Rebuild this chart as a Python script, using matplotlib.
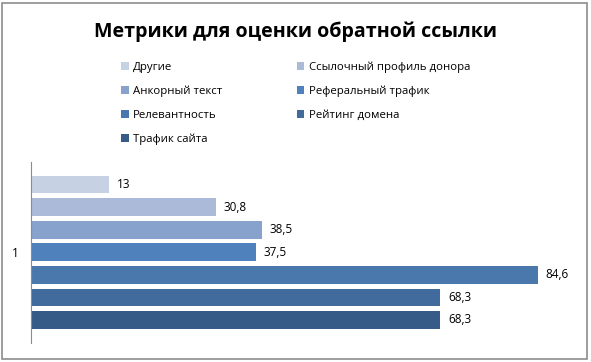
import matplotlib.pyplot as plt
from matplotlib.patches import Rectangle

plt.rcParams['font.family'] = ['Open Sans', 'DejaVu Sans']

# series, top to bottom as drawn
labels = ['Другие', 'Ссылочный профиль донора', 'Анкорный текст',
          'Реферальный трафик', 'Релевантность', 'Рейтинг домена',
          'Трафик сайта']
values = [13, 30.8, 38.5, 37.5, 84.6, 68.3, 68.3]
value_text = ['13', '30,8', '38,5', '37,5', '84,6', '68,3', '68,3']
colors = ['#C6D1E4', '#ABBAD9', '#87A2CC', '#4F81BD', '#4A78AD',
          '#416A9D', '#365B87']
category = '1'

fig = plt.figure(figsize=(5.91, 3.62), dpi=100)
fig.patches.append(Rectangle((0.004, 0.008), 0.99, 0.985, transform=fig.transFigure,
                             fill=False, edgecolor='#8c8c8c', linewidth=1.2))

fig.text(0.5, 0.912, 'Метрики для оценки обратной ссылки', ha='center', va='center',
         fontsize=14.1, fontweight='bold', color='black')

# axes in pixel terms: left 31, right 575, top 162, bottom 343
W, H = 591, 362
ax = fig.add_axes([31 / W, 1 - 343 / H, (575 - 31) / W, (343 - 162) / H])

n = len(values)
pos = list(range(n))
handles = []
for i in range(n):
    b = ax.barh(pos[i], values[i], height=0.78, color=colors[i], label=labels[i])
    handles.append(b)
    ax.text(values[i] + 1.3, pos[i], value_text[i], va='center', ha='left',
            fontsize=8.5, color='black')

ax.set_ylim(n - 1 + 1.02, -1.0)
ax.set_xlim(0, 90.8)
ax.set_xticks([])
ax.set_yticks([(n - 1) / 2])
ax.set_yticklabels([category], fontsize=8.5)
ax.tick_params(axis='y', length=0, pad=9)
for s in ['top', 'right', 'bottom']:
    ax.spines[s].set_visible(False)
ax.spines['left'].set_color('#8c8c8c')

order = [0, 2, 4, 6, 1, 3, 5]
fig.legend([handles[i] for i in order], [labels[i] for i in order],
           ncol=2, loc='upper left', bbox_to_anchor=(115 / W, 1 - 56 / H),
           frameon=False, fontsize=8.2, handlelength=0.7, handleheight=0.7,
           handletextpad=0.4, columnspacing=6.5, labelspacing=1.12,
           borderpad=0)

fig.savefig('out.png', dpi=100)
